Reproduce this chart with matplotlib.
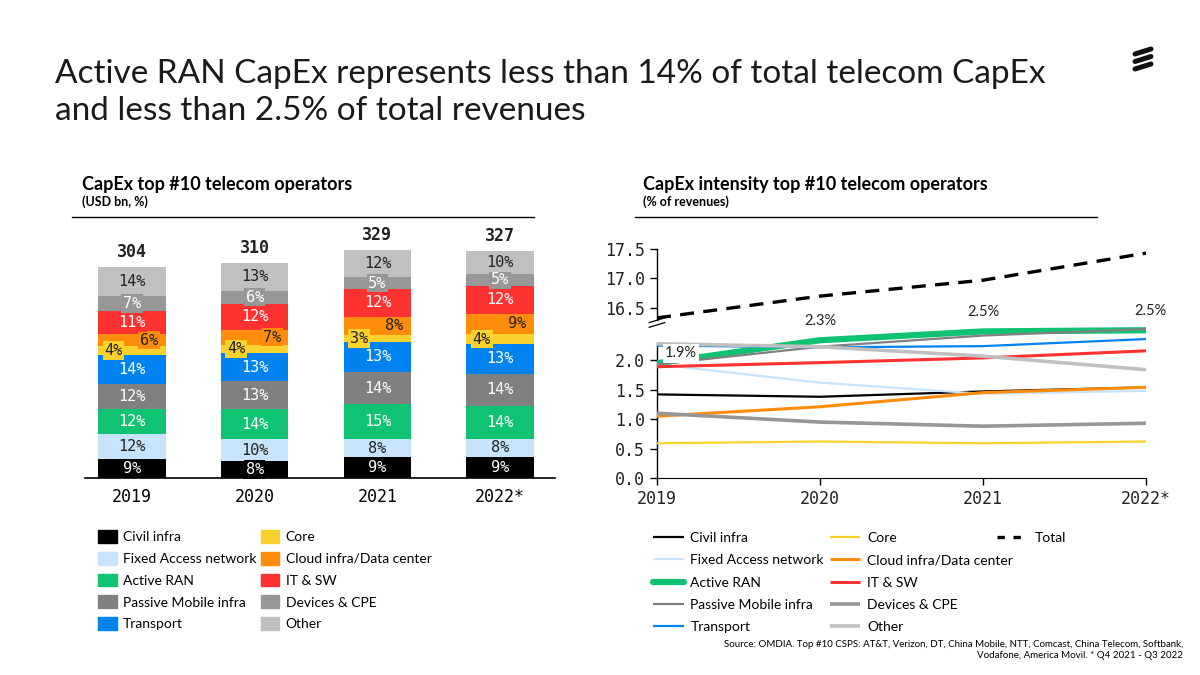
import matplotlib
matplotlib.use("Agg")
import matplotlib.pyplot as plt
from matplotlib.lines import Line2D
from matplotlib.patches import Patch

# ---- data -------------------------------------------------------------
years = ["2019", "2020", "2021", "2022*"]
categories = ["Civil infra", "Fixed Access network", "Active RAN", "Passive Mobile infra",
              "Transport", "Core", "Cloud infra/Data center", "IT & SW",
              "Devices & CPE", "Other"]
capex_total = [304, 310, 329, 327]
# share of capex (%) per category, one list per category, years in order
capex_share = {
    "Civil infra":             [9, 8, 9, 9],
    "Fixed Access network":    [12, 10, 8, 8],
    "Active RAN":              [12, 14, 15, 14],
    "Passive Mobile infra":    [12, 13, 14, 14],
    "Transport":               [14, 13, 13, 13],
    "Core":                    [4, 4, 3, 4],
    "Cloud infra/Data center": [6, 7, 8, 9],
    "IT & SW":                 [11, 12, 12, 12],
    "Devices & CPE":           [7, 6, 5, 5],
    "Other":                   [14, 13, 12, 10],
}
# capex intensity (% of revenues)
intensity = {
    "Civil infra":             [1.42, 1.38, 1.47, 1.54],
    "Fixed Access network":    [1.93, 1.62, 1.43, 1.48],
    "Active RAN":              [1.95, 2.34, 2.49, 2.51],
    "Passive Mobile infra":    [1.93, 2.23, 2.42, 2.53],
    "Transport":               [2.25, 2.22, 2.24, 2.36],
    "Core":                    [0.59, 0.62, 0.59, 0.62],
    "Cloud infra/Data center": [1.05, 1.21, 1.45, 1.54],
    "IT & SW":                 [1.89, 1.96, 2.04, 2.16],
    "Devices & CPE":           [1.10, 0.95, 0.88, 0.93],
    "Other":                   [2.28, 2.23, 2.07, 1.84],
}
total_intensity = [16.33, 16.70, 16.97, 17.43]
ran_labels = ["1.9%", "2.3%", "2.5%", "2.5%"]

colors = {
    "Civil infra": "#000000",
    "Fixed Access network": "#c8e4fc",
    "Active RAN": "#0fc373",
    "Passive Mobile infra": "#808080",
    "Transport": "#0082f0",
    "Core": "#fad22d",
    "Cloud infra/Data center": "#ff8c0a",
    "IT & SW": "#ff3232",
    "Devices & CPE": "#979797",
    "Other": "#c0c0c0",
}
dark_text = {"Fixed Access network", "Core", "Cloud infra/Data center", "Other"}
line_width = {"Active RAN": 4.5, "Devices & CPE": 2.6, "Other": 2.6,
              "Cloud infra/Data center": 2.2, "IT & SW": 2.2}

MONO = "DejaVu Sans Mono"
SANS = ["Lato", "DejaVu Sans"]

fig = plt.figure(figsize=(12, 6.75), dpi=100)


def px(x, y):
    return x / 1200, 1 - y / 675


# ---- titles -----------------------------------------------------------
fig.text(*px(55, 83), "Active RAN CapEx represents less than 14% of total telecom CapEx",
         fontsize=24, family=SANS, fontweight="normal", color="#1a1a1a", va="baseline")
fig.text(*px(55, 120), "and less than 2.5% of total revenues",
         fontsize=24, family=SANS, fontweight="normal", color="#1a1a1a", va="baseline")

# ericsson logo
for y0 in (54, 61.5, 69):
    fig.add_artist(Line2D([1135 / 1200, 1151 / 1200], [1 - y0 / 675, 1 - (y0 - 5) / 675],
                          color="#111111", lw=3.6, solid_capstyle="round"))

fig.text(*px(82, 190), "CapEx top #10 telecom operators", fontsize=13, family=SANS,
         fontweight="bold", va="baseline")
fig.text(*px(82, 206), "(USD bn, %)", fontsize=9, family=SANS, fontweight="bold", va="baseline")
fig.add_artist(Line2D([72 / 1200, 534 / 1200], [1 - 217 / 675] * 2, color="black", lw=1))

fig.text(*px(643, 190), "CapEx intensity top #10 telecom operators", fontsize=13, family=SANS,
         fontweight="bold", va="baseline")
fig.text(*px(643, 206), "(% of revenues)", fontsize=9, family=SANS, fontweight="bold",
         va="baseline")
fig.add_artist(Line2D([635 / 1200, 1097 / 1200], [1 - 217 / 675] * 2, color="black", lw=1))

# ---- stacked bars -----------------------------------------------------
ax1 = fig.add_axes([85 / 1200, 197 / 675, 470 / 1200, 236 / 675])
xs = list(range(len(years)))
sums = [sum(capex_share[c][i] for c in categories) for i in xs]
bottoms = [0.0] * len(years)
dx = {"Core": -0.15, "Cloud infra/Data center": 0.14}
for cat in categories:
    vals = [capex_share[cat][i] / sums[i] * capex_total[i] for i in xs]
    ax1.bar(xs, vals, bottom=bottoms, width=0.55, color=colors[cat], label=cat)
    for i in xs:
        yc = bottoms[i] + vals[i] / 2
        tc = "#222222" if cat in dark_text else "white"
        ax1.text(i + dx.get(cat, 0), yc, f"{capex_share[cat][i]}%", ha="center", va="center",
                 fontsize=11, family=MONO, color=tc,
                 bbox=dict(facecolor=colors[cat], edgecolor="none", pad=1.2))
    bottoms = [bottoms[i] + vals[i] for i in xs]
for i in xs:
    ax1.text(i, capex_total[i] + 8, str(capex_total[i]), ha="center", va="bottom",
             fontsize=12, family=MONO, fontweight="bold", color="#222222")
ax1.set_xlim(-0.382, 3.447)
ax1.set_ylim(0, 340)
ax1.set_xticks(xs, years, fontsize=12, family=MONO)
ax1.tick_params(axis="x", length=0, pad=7)
ax1.set_yticks([])
for s in ("left", "right", "top"):
    ax1.spines[s].set_visible(False)
ax1.spines["bottom"].set_linewidth(1.2)

fig.legend(handles=[Patch(color=colors[c], label=c) for c in categories],
           loc="upper left", bbox_to_anchor=px(98, 530), ncol=2, frameon=False,
           prop={"family": SANS, "size": 10}, handlelength=1.35, handleheight=1.05,
           handletextpad=0.45, labelspacing=0.62, columnspacing=0.3,
           borderaxespad=0, borderpad=0)

# ---- line chart -------------------------------------------------------
OFFSET = 13.61
ax2 = fig.add_axes([657 / 1200, 197 / 675, 489 / 1200, 229 / 675])
yrs = [2019, 2020, 2021, 2022]
handles = []
for cat in categories:
    ax2.plot(yrs, intensity[cat], color=colors[cat], lw=line_width.get(cat, 1.6),
             label=cat, solid_capstyle="butt")
    handles.append(Line2D([], [], color=colors[cat], lw=line_width.get(cat, 1.6),
                          solid_capstyle="round" if cat == "Active RAN" else "butt", label=cat))
ax2.plot(yrs, [v - OFFSET for v in total_intensity], color="black", lw=2.4,
         dashes=(4.2, 2.8), label="Total")

offsets = [(17, 7), (0, 14), (0, 14), (3, 14)]
for i, lab in enumerate(ran_labels):
    kw = {}
    if i == 0:
        kw["bbox"] = dict(facecolor="white", edgecolor="none", pad=1.5)
    ax2.annotate(lab, (yrs[i], intensity["Active RAN"][i]), xytext=offsets[i],
                 textcoords="offset points", ha="center", va="center", fontsize=10.5,
                 family=SANS, color="#222222", **kw)

ytop = 17.5 - OFFSET
ax2.set_xlim(2019, 2022)
ax2.set_ylim(0, ytop)
upper = [16.5, 17.0, 17.5]
lower = [0.0, 0.5, 1.0, 1.5, 2.0]
ax2.set_yticks(lower + [u - OFFSET for u in upper], [f"{v:.1f}" for v in lower + upper],
               fontsize=12, family=MONO)
ax2.set_xticks(yrs, years, fontsize=12, family=MONO)
ax2.tick_params(length=5, width=1, color="black", labelcolor="#222222")
for s in ("left", "right", "top"):
    ax2.spines[s].set_visible(False)
ax2.axvline(2019, 0, 2.30 / ytop, color="black", lw=1, clip_on=False, zorder=0)
ax2.axvline(2019, 2.69 / ytop, 1, color="black", lw=1, clip_on=False, zorder=0)
for yb in (2.60, 2.68):
    ax2.plot([-0.016, 0.016], [(yb - 0.04) / ytop, (yb + 0.04) / ytop], color="black", lw=0.9,
             transform=ax2.transAxes, clip_on=False)

fig.legend(handles=handles, loc="upper left", bbox_to_anchor=px(653, 532), ncol=2,
           frameon=False, prop={"family": SANS, "size": 10}, handlelength=2.2,
           handletextpad=0.5, labelspacing=0.74, columnspacing=0.4,
           borderaxespad=0, borderpad=0)
fig.legend(handles=[Line2D([], [], color="black", lw=2.4, dashes=(2.2, 2.6), label="Total")],
           loc="upper left", bbox_to_anchor=px(997, 532), frameon=False,
           prop={"family": SANS, "size": 10}, handlelength=2.2, handletextpad=0.5,
           borderaxespad=0, borderpad=0)

fig.text(*px(1183, 658), "Source: OMDIA. Top #10 CSPS: AT&T, Verizon, DT, China Mobile, NTT, "
         "Comcast, China Telecom, Softbank,\nVodafone, America Movil. * Q4 2021 - Q3 2022",
         ha="right", va="baseline", fontsize=7, family=SANS, linespacing=1.3)

fig.savefig("out.png", dpi=100)
